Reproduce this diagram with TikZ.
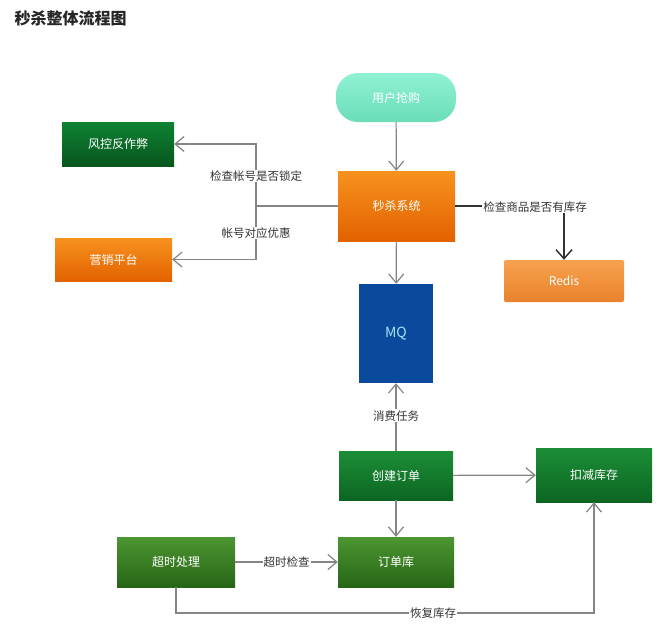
\documentclass[tikz,border=0pt]{standalone}
\usepackage{fontspec}
\setmainfont{Noto Sans CJK SC}
\usetikzlibrary{arrows.meta,positioning,calc}
\definecolor{lineg}{HTML}{858585}
\definecolor{txt}{HTML}{333333}
\definecolor{userT}{HTML}{90F2D3}
\definecolor{userB}{HTML}{6ADDB8}
\definecolor{dgT}{HTML}{0E8233}
\definecolor{dgB}{HTML}{08561D}
\definecolor{orT}{HTML}{F7921E}
\definecolor{orB}{HTML}{E26200}
\definecolor{rdT}{HTML}{F7A14E}
\definecolor{rdB}{HTML}{E9822C}
\definecolor{mq}{HTML}{0A4A9C}
\definecolor{mqtext}{HTML}{A8E4F5}
\definecolor{gnT}{HTML}{1C8E37}
\definecolor{gnB}{HTML}{0C6622}
\definecolor{olT}{HTML}{4C9632}
\definecolor{olB}{HTML}{276516}
\definecolor{redisline}{HTML}{333333}
\tikzset{
  box/.style={draw=none,inner sep=0pt,text=white,font=\fontsize{12}{14}\selectfont},
  grad/.style n args={2}{top color=#1,bottom color=#2},
  conn/.style={draw=lineg,line width=1.2pt,-{Straight Barb[length=9pt,width=15pt,line width=1.2pt]}},
  plain/.style={draw=lineg,line width=1.2pt},
  lbl/.style={fill=white,inner sep=1pt,text=txt,font=\fontsize{11.5}{13}\selectfont},
}
\begin{document}
\begin{tikzpicture}[x=1pt,y=-1pt]
\useasboundingbox (0,0) rectangle (672,627);
\fill[white] (0,0) rectangle (672,627);
\node[anchor=west,text=black!85,font=\fontsize{16}{18}\selectfont\bfseries] (title) at (11,18) {秒杀整体流程图};

% nodes
\node[box,minimum width=120pt,minimum height=49pt,rounded corners=22pt,grad={userT}{userB}] (user) at (396,97.5) {用户抢购};
\node[box,minimum width=112pt,minimum height=44pt,grad={dgT}{dgB}] (risk) at (118,144) {风控反作弊};
\node[box,minimum width=117pt,minimum height=43pt,grad={orT}{orB}] (mkt) at (113.5,259.5) {营销平台};
\node[box,minimum width=117pt,minimum height=70pt,grad={orT}{orB}] (ms) at (396.5,206) {秒杀系统};
\node[box,minimum width=120pt,minimum height=42pt,rounded corners=2pt,grad={rdT}{rdB}] (redis) at (564,281) {Redis};
\node[box,minimum width=74pt,minimum height=99pt,fill=mq,text=mqtext,font=\fontsize{14}{16}\selectfont] (mq) at (396,333.5) {MQ};
\node[box,minimum width=114pt,minimum height=49pt,grad={gnT}{gnB}] (co) at (396,475.5) {创建订单};
\node[box,minimum width=116pt,minimum height=54pt,grad={gnT}{gnB}] (dec) at (594,475) {扣减库存};
\node[box,minimum width=118pt,minimum height=50pt,grad={olT}{olB}] (to) at (176,562) {超时处理};
\node[box,minimum width=116pt,minimum height=50pt,grad={olT}{olB}] (odb) at (396,562) {订单库};

% connectors
\coordinate (split) at (256,206);
\draw[conn] (user) -- (ms);
\draw[plain] (ms.west) -- (split);
\draw[conn] (split) |- (risk.east);
\draw[conn] (split) |- (mkt.east);
\node[lbl] (l1) at (256,176) {检查帐号是否锁定};
\node[lbl] (l2) at (256,233) {帐号对应优惠};

\draw[redisline,line width=1.5pt,-{Straight Barb[length=9pt,width=16pt,line width=1.5pt]}] (ms.east) -| (redis.north);
\node[lbl] (l3) at (535,207) {检查商品是否有库存};

\draw[conn] (ms) -- (mq);
\draw[conn] (co) -- (mq) node[lbl,pos=0.52] (l4) {消费任务};
\draw[conn] (co) -- (dec);
\draw[conn] (co) -- (odb);
\draw[conn] (to) -- (odb) node[lbl,pos=0.5] (l5) {超时检查};
\draw[conn] (to.south) |- (433,613) -| (dec.south);
\node[lbl] (l6) at (433,613) {恢复库存};
\end{tikzpicture}
\end{document}
